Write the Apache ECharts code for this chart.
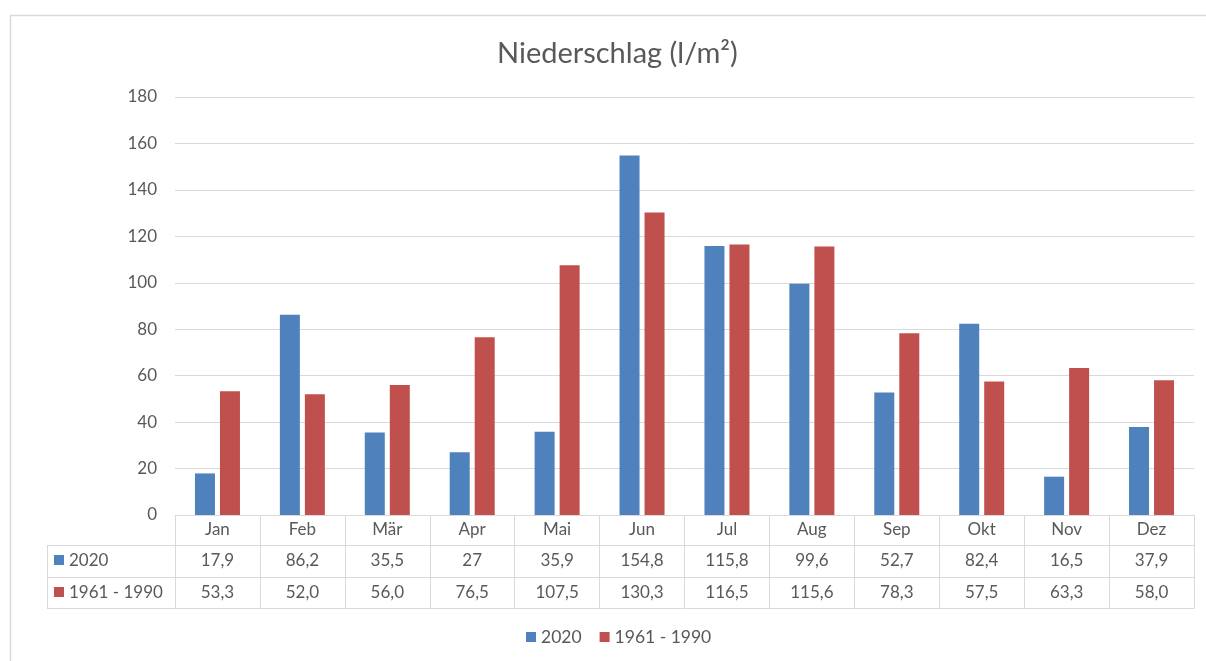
<!DOCTYPE html>
<html>
<head>
<meta charset="utf-8">
<script src="https://cdn.jsdelivr.net/npm/echarts@6/dist/echarts.min.js"></script>
<style>
  html, body { margin: 0; padding: 0; background: #fff; }
  #chart { width: 1206px; height: 661px; }
</style>
</head>
<body>
<div id="chart"></div>
<script>
// Monthly precipitation (l/m²)
const months = ['Jan', 'Feb', 'Mär', 'Apr', 'Mai', 'Jun', 'Jul', 'Aug', 'Sep', 'Okt', 'Nov', 'Dez'];
const rain2020 = [17.9, 86.2, 35.5, 27, 35.9, 154.8, 115.8, 99.6, 52.7, 82.4, 16.5, 37.9];
const rainRef = [53.3, 52.0, 56.0, 76.5, 107.5, 130.3, 116.5, 115.6, 78.3, 57.5, 63.3, 58.0];
const seriesNames = ['2020', '1961 - 1990'];
const yTicks = { min: 0, max: 180, step: 20 };

const BLUE = '#4F81BD';
const RED = '#C0504D';
const TEXT = '#595959';
const LINE = '#D9D9D9';
const FONT = 'Lato, "Open Sans", sans-serif';

const fmt2020 = v => String(v).replace('.', ',');
const fmtRef = v => v.toFixed(1).replace('.', ',');

// table geometry (rows below the category axis)
const gridLeft = 175, gridRight = 12, gridTop = 97, gridBottom = 146;
const axisY = 661 - gridBottom;
const rowOffsets = [30, 62, 93];
const headLeft = 47;

const chart = echarts.init(document.getElementById('chart'));

function tableAxis(offset, labels) {
  return {
    type: 'category',
    data: months,
    position: 'bottom',
    offset: offset,
    axisLine: { show: true, lineStyle: { color: LINE, width: 1 } },
    axisTick: { show: false },
    axisLabel: labels ? {
      interval: 0, margin: 7, color: TEXT, fontSize: 17, fontFamily: FONT,
      formatter: (v, i) => labels[i]
    } : { show: false },
    splitLine: { show: false }
  };
}

const option = {
  backgroundColor: '#fff',
  animation: false,
  textStyle: { fontFamily: FONT },
  title: {
    text: 'Niederschlag (l/m²)',
    left: 492,
    top: 34,
    textStyle: { color: TEXT, fontSize: 29, fontWeight: 'normal', fontFamily: FONT }
  },
  legend: {
    bottom: 10,
    left: 521,
    icon: 'rect',
    itemWidth: 10,
    itemHeight: 10,
    itemGap: 18,
    textStyle: { color: TEXT, fontSize: 17.5, fontFamily: FONT },
    data: seriesNames
  },
  grid: { left: gridLeft, right: gridRight, top: gridTop, bottom: gridBottom, containLabel: false },
  xAxis: [
    {
      type: 'category',
      data: months,
      axisLine: { show: true, lineStyle: { color: LINE, width: 1 } },
      axisTick: { show: true, interval: 0, length: rowOffsets[2], lineStyle: { color: LINE } },
      axisLabel: { interval: 0, margin: 6, color: TEXT, fontSize: 17, fontFamily: FONT },
      splitLine: { show: false }
    },
    tableAxis(rowOffsets[0], rain2020.map(fmt2020)),
    tableAxis(rowOffsets[1], rainRef.map(fmtRef)),
    tableAxis(rowOffsets[2], null)
  ],
  yAxis: {
    type: 'value',
    min: yTicks.min,
    max: yTicks.max,
    interval: yTicks.step,
    axisLine: { show: false },
    axisTick: { show: false },
    axisLabel: { margin: 18, color: TEXT, fontSize: 17, fontFamily: FONT },
    splitLine: { lineStyle: { color: LINE, width: 1 } }
  },
  series: [
    {
      name: seriesNames[0], type: 'bar', data: rain2020,
      itemStyle: { color: BLUE }, barGap: '25%', barCategoryGap: '47%'
    },
    {
      name: seriesNames[1], type: 'bar', data: rainRef,
      itemStyle: { color: RED }, barGap: '25%', barCategoryGap: '47%'
    }
  ],
  graphic: [
    // chart frame
    { type: 'rect', shape: { x: 10.5, y: 15.5, width: 1300, height: 700 },
      style: { fill: null, stroke: '#D9D9D9', lineWidth: 1.5 }, silent: true },
    // header column of the data table
    { type: 'line', shape: { x1: headLeft, y1: axisY + rowOffsets[0] + 0.5, x2: gridLeft, y2: axisY + rowOffsets[0] + 0.5 }, style: { stroke: LINE } },
    { type: 'line', shape: { x1: headLeft, y1: axisY + rowOffsets[1] + 0.5, x2: gridLeft, y2: axisY + rowOffsets[1] + 0.5 }, style: { stroke: LINE } },
    { type: 'line', shape: { x1: headLeft, y1: axisY + rowOffsets[2] + 0.5, x2: gridLeft, y2: axisY + rowOffsets[2] + 0.5 }, style: { stroke: LINE } },
    { type: 'line', shape: { x1: headLeft + 0.5, y1: axisY + rowOffsets[0], x2: headLeft + 0.5, y2: axisY + rowOffsets[2] }, style: { stroke: LINE } },
    { type: 'rect', shape: { x: 54, y: axisY + 40, width: 10, height: 10 }, style: { fill: BLUE } },
    { type: 'text', x: 69, y: axisY + 46, style: { text: seriesNames[0], fill: TEXT, fontSize: 17, fontFamily: FONT, verticalAlign: 'middle' } },
    { type: 'rect', shape: { x: 54, y: axisY + 72, width: 10, height: 10 }, style: { fill: RED } },
    { type: 'text', x: 69, y: axisY + 78, style: { text: seriesNames[1], fill: TEXT, fontSize: 17, fontFamily: FONT, verticalAlign: 'middle' } }
  ]
};

chart.setOption(option);
</script>
</body>
</html>
